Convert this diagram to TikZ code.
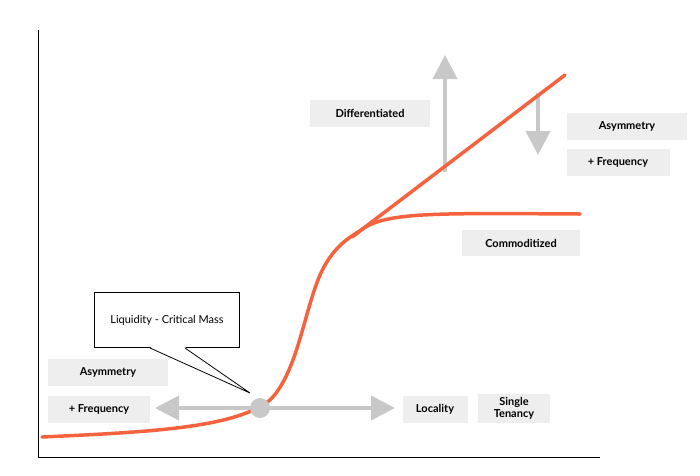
\documentclass[tikz,border=0pt]{standalone}
\usepackage{fontspec}
\setmainfont{Lato}
\usetikzlibrary{arrows.meta}
\definecolor{orc}{HTML}{F4633E}
\definecolor{gr}{HTML}{C8C8C8}
\definecolor{lb}{HTML}{EEEEEE}
\begin{document}
\begin{tikzpicture}[x=1pt,y=-1pt,
  lab/.style={fill=lb,font=\bfseries\fontsize{11}{12}\selectfont,align=center,inner sep=0pt},
  garr/.style={draw=gr,line width=4pt,-{Triangle[width=24pt,length=24pt]}}]
\useasboundingbox (0,0) rectangle (700,475);
\draw[line width=0.8pt] (38,30) -- (38,457) -- (600,457);
% labels
\node[lab,minimum width=120pt,minimum height=27pt] (diff) at (370,113) {Differentiated};
\node[lab,minimum width=120pt,minimum height=27pt] (asy1) at (627,126) {Asymmetry};
\node[lab,minimum width=103pt,minimum height=27pt] (fr1) at (618,162) {+ Frequency};
\node[lab,minimum width=118pt,minimum height=26pt] (com) at (521,243) {Commoditized};
\node[lab,minimum width=120pt,minimum height=27pt] (asy2) at (108,372) {Asymmetry};
\node[lab,minimum width=102pt,minimum height=27pt] (fr2) at (99,409) {+ Frequency};
\node[lab,minimum width=65pt,minimum height=27pt] (loc) at (435,409) {Locality};
\node[lab,minimum width=72pt,minimum height=29pt] (st) at (514,408) {Single\\Tenancy};
% arrows
\coordinate (cc) at (260,408);
\coordinate (l) at (155,408); \coordinate (r) at (395,408);
\draw[garr] (cc) -- (l);
\draw[garr] (cc) -- (r);
\coordinate (u0) at (445,172); \coordinate (u1) at (445,55);
\draw[garr] (u0) -- (u1);
\coordinate (d0) at (538,93); \coordinate (d1) at (538,155);
\draw[garr] (d0) -- (d1);
% curve
\draw[orc,line width=3.5pt,line cap=round] (42,437) .. controls (150,432) and (235,428) .. (270,400)
  .. controls (300,370) and (305,300) .. (325,265) .. controls (335,248) and (345,240) .. (358,232);
\draw[orc,line width=3.5pt,line cap=round] (356,234) .. controls (380,212) and (420,213) .. (580,214);
\draw[orc,line width=3.5pt,line cap=round] (352,237) -- (565,75);
\node[circle,fill=gr,minimum size=20pt,inner sep=0pt] (c) at (cc) {};
% callout
\node[draw,fill=white,line width=0.8pt,minimum width=145pt,minimum height=55pt,font=\fontsize{11}{12}\selectfont] (cm) at (167,320) {Liquidity - Critical Mass};
\coordinate (tip) at (250,393);
\fill[white] (150,347) -- (tip) -- (185,347) -- cycle;
\draw[line width=0.8pt] (150,348) -- (tip) -- (185,348);
\end{tikzpicture}
\end{document}
